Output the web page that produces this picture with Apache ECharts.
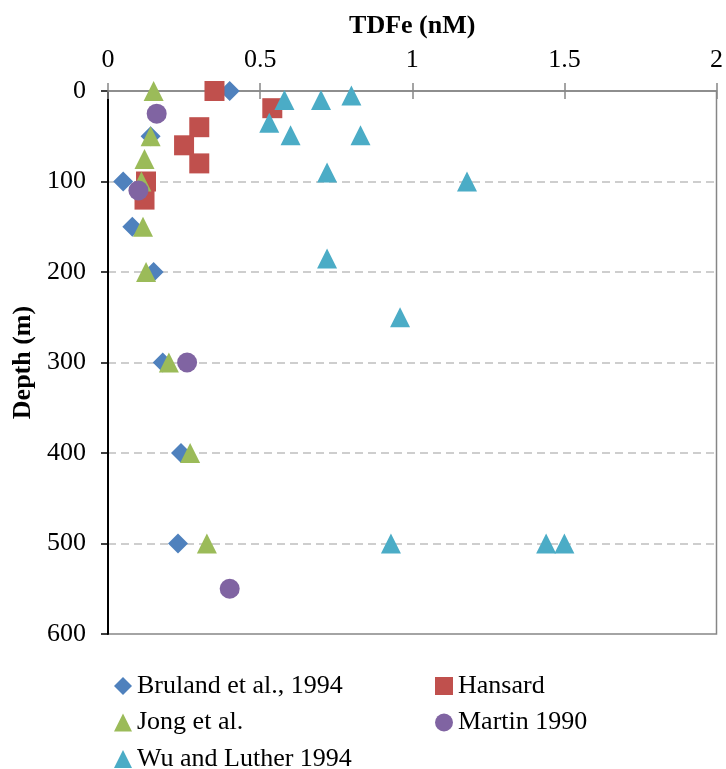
<!DOCTYPE html>
<html lang="en">
<head>
    <meta charset="UTF-8">
    <title>TDFe profile</title>
    <script type="text/javascript" src="https://cdn.jsdelivr.net/npm/echarts@6/dist/echarts.min.js"></script>
    <style>
        html, body { margin: 0; padding: 0; background: #fff; }
    </style>
</head>
<body>
<div id="main" style="width:726px;height:769px;"></div>
</body>

<script>
    // x = TDFe (nM), y = depth (m)
    const brulandFe = [0.40, 0.14, 0.05, 0.08, 0.15, 0.18, 0.24, 0.23];
    const brulandDepth = [0, 50, 100, 150, 200, 300, 400, 500];

    const hansardFe = [0.35, 0.54, 0.30, 0.25, 0.30, 0.125, 0.12];
    const hansardDepth = [0, 19, 40, 60, 80, 100, 120];

    const jongFe = [0.15, 0.14, 0.12, 0.11, 0.115, 0.125, 0.20, 0.27, 0.325];
    const jongDepth = [0, 50, 75, 100, 150, 200, 300, 400, 500];

    const martinFe = [0.16, 0.10, 0.26, 0.40];
    const martinDepth = [25, 110, 300, 550];

    const wuFe = [0.58, 0.70, 0.80, 0.53, 0.60, 0.83, 0.72, 1.18, 0.72, 0.96, 0.93, 1.44, 1.50];
    const wuDepth = [10, 10, 5, 35, 49, 49, 90, 100, 185, 250, 500, 500, 500];

    const xTicks = [0, 0.5, 1, 1.5, 2];
    const yTicks = [0, 100, 200, 300, 400, 500, 600];

    const seriesNames = ['Bruland et al., 1994', 'Hansard', 'Jong et al.', 'Martin 1990', 'Wu and Luther 1994'];
    const seriesColors = ['#4F81BD', '#C0504D', '#9BBB59', '#8064A2', '#4BACC6'];
    const seriesSymbols = ['diamond', 'rect', 'triangle', 'circle', 'triangle'];
    const seriesX = [brulandFe, hansardFe, jongFe, martinFe, wuFe];
    const seriesY = [brulandDepth, hansardDepth, jongDepth, martinDepth, wuDepth];

    const font = 'Liberation Serif';
    const gridLeft = 108, gridTop = 91, gridW = 609, gridH = 543;

    let myChart = echarts.init(document.getElementById('main'));

    let series = seriesNames.map((name, k) => ({
        name: name,
        type: 'scatter',
        symbol: seriesSymbols[k],
        symbolSize: 20,
        itemStyle: { color: seriesColors[k], opacity: 1 },
        data: seriesX[k].map((v, i) => [v, seriesY[k][i]])
    }));

    let legendItem = (i) => ({ name: seriesNames[i], icon: seriesSymbols[i] });

    let legendBase = {
        orient: 'vertical', top: 673, padding: 0, height: 140,
        itemWidth: 18, itemHeight: 18, itemGap: 10.5,
        textStyle: { fontFamily: font, fontSize: 26, color: '#000', lineHeight: 26 }
    };

    let option = {
        animation: false,
        backgroundColor: '#ffffff',
        grid: {
            left: gridLeft, top: gridTop, width: gridW, height: gridH,
            show: true, borderColor: '#868686', borderWidth: 1.5
        },
        legend: [
            Object.assign({}, legendBase, { left: 114, data: [legendItem(0), legendItem(2), legendItem(4)] }),
            Object.assign({}, legendBase, { left: 435, data: [legendItem(1), legendItem(3)] })
        ],
        xAxis: [
            {
                type: 'value', position: 'top',
                min: xTicks[0], max: xTicks[xTicks.length - 1], interval: 0.5,
                name: 'TDFe (nM)', nameLocation: 'middle', nameGap: 52,
                nameTextStyle: { fontFamily: font, fontSize: 26, fontWeight: 'bold', color: '#000' },
                axisLine: { show: true, lineStyle: { color: '#868686', width: 1.5 } },
                axisTick: { show: true, length: 8, lineStyle: { color: '#868686', width: 1.5 } },
                axisLabel: { fontFamily: font, fontSize: 26, color: '#000', margin: 18 },
                splitLine: { show: false }
            },
            {
                // lower half of the crossing ticks
                type: 'value', position: 'bottom', offset: -gridH,
                min: xTicks[0], max: xTicks[xTicks.length - 1], interval: 0.5,
                axisLine: { show: false },
                axisTick: { show: true, length: 8, lineStyle: { color: '#868686', width: 1.5 } },
                axisLabel: { show: false },
                splitLine: { show: false }
            }
        ],
        yAxis: {
            type: 'value', inverse: true,
            min: yTicks[0], max: yTicks[yTicks.length - 1], interval: 100,
            name: 'Depth (m)', nameLocation: 'middle', nameGap: 72,
            nameTextStyle: { fontFamily: font, fontSize: 26, fontWeight: 'bold', color: '#000' },
            axisLine: { show: true, lineStyle: { color: '#000', width: 2 } },
            axisTick: { show: true, length: 7, lineStyle: { color: '#000', width: 1.5 } },
            axisLabel: { fontFamily: font, fontSize: 26, color: '#000', margin: 22 },
            splitLine: {
                show: true, showMinLine: false, showMaxLine: false,
                lineStyle: { color: '#bfbfbf', width: 1.5, type: [8, 5] }
            }
        },
        series: series
    };

    myChart.setOption(option);
</script>
</html>
